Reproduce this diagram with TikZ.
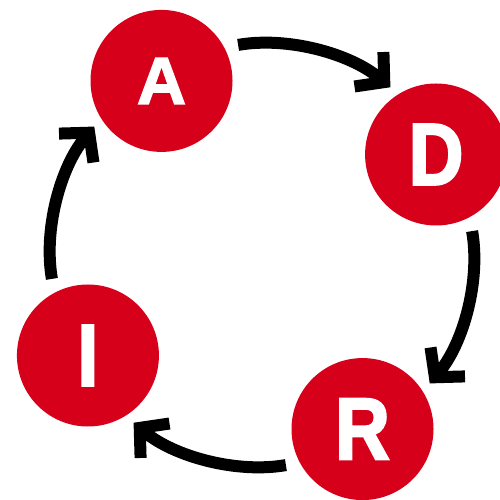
\documentclass[tikz,border=0pt]{standalone}
\usepackage{fontspec}
\newfontfamily\stagefont[FakeBold=2.5,FakeStretch=0.86]{Liberation Sans Bold}
\newfontfamily\stagewidefont[FakeBold=2,FakeStretch=1.02]{Liberation Sans Bold}
\usetikzlibrary{arrows.meta}
\definecolor{adirred}{RGB}{215,0,27}

\begin{document}
\begin{tikzpicture}[thick,
    stage/.style = {circle, fill=adirred, text=white, inner sep=0pt, minimum size=2.84cm,
      font=\stagefont\fontsize{50}{50}\selectfont},
    flow/.style = {line width=0.24cm, -{Straight Barb[length=0.4cm, width=0.9cm]},
      shorten <=0.27cm, shorten >=0.2cm, looseness=0.9}]
    \useasboundingbox (-5.24,-4.9) rectangle (4.76,5.1);

    % the four stages sit on one ring
    \node[stage, font=\stagewidefont\fontsize{38}{38}\selectfont] (A) at (120:4.02) {A};
    \node[stage] (D) at (30:4.02) {D};
    \node[stage] (R) at (-60:4.02) {R};
    \node[stage] (I) at (210:4.02) {I};

    % arrows follow a slightly wider ring, clockwise
    \draw[flow] (A.28) to[out=10, in=140] (D.122);
    \draw[flow] (D.-62) to[out=-80, in=50] (R.32);
    \draw[flow] (R.-152) to[out=-170, in=-40] (I.-58);
    \draw[flow] (I.118) to[out=100, in=230] (A.212);
\end{tikzpicture}
\end{document}
